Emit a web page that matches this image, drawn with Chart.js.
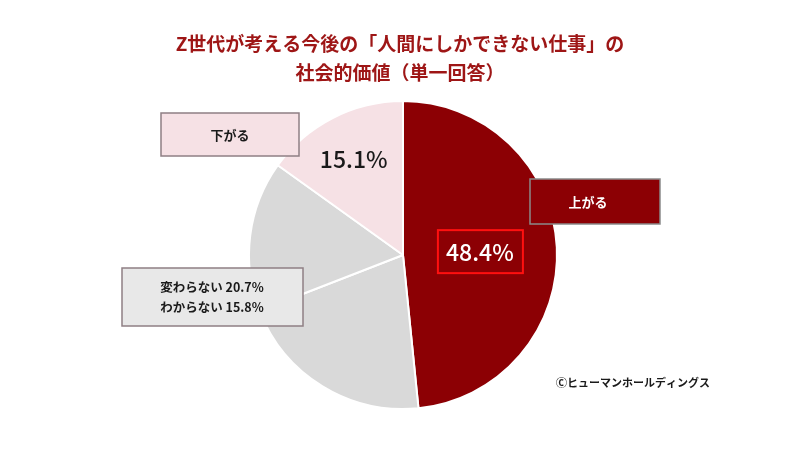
<!DOCTYPE html>
<html lang="ja">
<head>
<meta charset="utf-8">
<title>Z世代 人間にしかできない仕事 社会的価値</title>
<script src="https://cdn.jsdelivr.net/npm/chart.js@4.4.1/dist/chart.umd.min.js"></script>
<style>
  html, body { margin: 0; padding: 0; background: #fff; }
  #wrap { width: 800px; height: 450px; }
</style>
</head>
<body>
<div id="wrap"><canvas id="pie" width="800" height="450"></canvas></div>
<script>
// chart data
const titleLines = ['Z世代が考える今後の「人間にしかできない仕事」の', '社会的価値（単一回答）'];
const categories = ['上がる', '変わらない', 'わからない', '下がる'];
const shares = [48.4, 20.7, 15.8, 15.1];
const sliceColors = ['#8c0004', '#d9d9d9', '#d9d9d9', '#f6e1e5'];
const credit = 'Ⓒヒューマンホールディングス';

const FONT = '"Noto Sans CJK JP", "Noto Sans", sans-serif';
const pct = v => v.toFixed(1) + '%';

function box(ctx, x, y, w, h, fill, stroke) {
    ctx.fillStyle = fill;
    ctx.fillRect(x, y, w, h);
    ctx.strokeStyle = stroke;
    ctx.lineWidth = 1.5;
    ctx.strokeRect(x, y, w, h);
}

// slice label position inside an arc (fraction of radius)
function slicePoint(arc, k) {
    const mid = (arc.startAngle + arc.endAngle) / 2;
    const r = arc.outerRadius * k;
    return { x: arc.x + Math.cos(mid) * r, y: arc.y + Math.sin(mid) * r };
}

const labelsPlugin = {
    id: 'labelsPlugin',
    afterDraw(chart) {
        const ctx = chart.ctx;
        const arcs = chart.getDatasetMeta(0).data;
        ctx.save();
        ctx.textAlign = 'center';
        ctx.textBaseline = 'middle';

        // title
        ctx.fillStyle = '#9e1616';
        ctx.font = 'bold 19px ' + FONT;
        ctx.fillText(titleLines[0], 400, 44);
        ctx.fillText(titleLines[1], 400, 73);

        // 上がる
        box(ctx, 530, 179, 130, 45, '#8c0004', '#8a8a8a');
        ctx.fillStyle = '#fff';
        ctx.font = 'bold 13px ' + FONT;
        ctx.fillText(categories[0], 588, 202);

        // 下がる
        box(ctx, 161, 113, 138, 43, '#f6e1e5', '#8f7f84');
        ctx.fillStyle = '#1a1a1a';
        ctx.fillText(categories[3], 230, 135);

        // 変わらない / わからない
        box(ctx, 122, 268, 181, 58, '#e8e8e8', '#8f7f84');
        ctx.fillStyle = '#1a1a1a';
        ctx.font = 'bold 12.5px ' + FONT;
        ctx.fillText(categories[1] + ' ' + pct(shares[1]), 212, 287);
        ctx.fillText(categories[2] + ' ' + pct(shares[2]), 212, 307);

        // 48.4%
        const p0 = slicePoint(arcs[0], 0.5);
        ctx.strokeStyle = '#ff1010';
        ctx.lineWidth = 2;
        ctx.strokeRect(p0.x - 42, p0.y - 21, 85, 43);
        ctx.fillStyle = '#fff';
        ctx.font = '500 23px ' + FONT;
        ctx.fillText(pct(shares[0]), p0.x, p0.y + 1);

        // 15.1%
        const p3 = slicePoint(arcs[3], 0.7);
        ctx.fillStyle = '#1a1a1a';
        ctx.fillText(pct(shares[3]), p3.x, p3.y);

        // credit
        ctx.font = 'bold 11px ' + FONT;
        ctx.textAlign = 'left';
        ctx.fillText(credit, 556, 383);
        ctx.restore();
    }
};

new Chart(document.getElementById('pie'), {
    type: 'pie',
    data: {
        labels: categories,
        datasets: [{
            data: shares,
            backgroundColor: sliceColors,
            borderColor: '#ffffff',
            borderWidth: 2
        }]
    },
    options: {
        responsive: false,
        animation: false,
        layout: { padding: { top: 100, bottom: 40, left: 200, right: 194 } },
        plugins: {
            legend: { display: false },
            title: { display: false },
            tooltip: { enabled: false }
        }
    },
    plugins: [labelsPlugin]
});
</script>
</body>
</html>
